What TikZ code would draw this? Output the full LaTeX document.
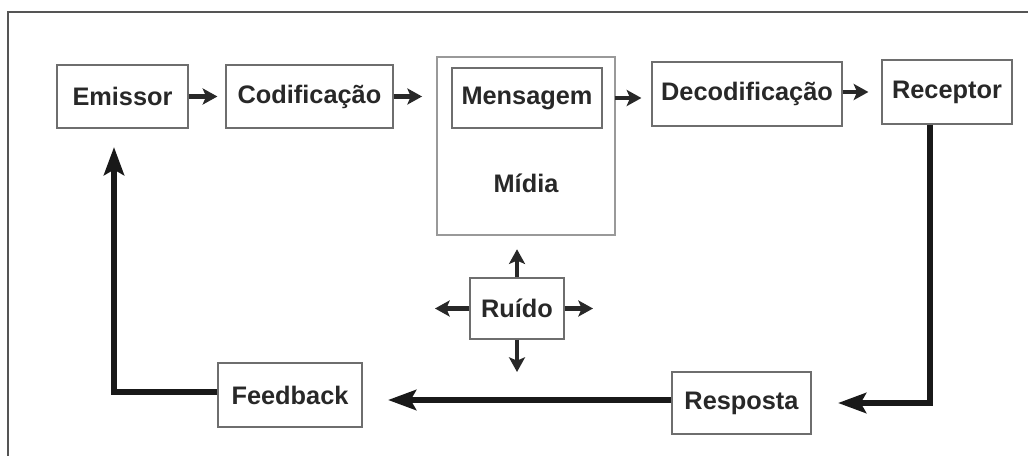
\documentclass[tikz,border=0pt]{standalone}
\usepackage{fontspec}
\setmainfont{Liberation Sans}
\usetikzlibrary{arrows.meta}

\definecolor{boxgray}{RGB}{110,110,110}
\definecolor{txtgray}{RGB}{40,40,40}

\begin{document}
\begin{tikzpicture}[x=0.75pt,y=0.75pt,yscale=-1,xscale=1,
  block/.style={draw=boxgray,line width=0.9pt,fill=white,inner sep=0pt,
    font=\fontsize{19}{22}\selectfont\bfseries,text=txtgray},
  thinarr/.style={line width=3.2pt,color=txtgray,
    -{Stealth[length=11pt,width=12pt,inset=2.5pt]}},
  thickarr/.style={line width=4.5pt,color=black!90,
    -{Stealth[length=21pt,width=15pt,inset=4pt]}}]
\useasboundingbox (0,0) rectangle (1028,456);

%Frame
\draw [color={rgb, 255:red, 85; green, 85; blue, 85 },line width=1.5pt] (8,456) -- (8,12) -- (1028,12) ;

%Shape: Rectangle
\node (emissor) at (122.5,96.5) [block,minimum width=131*0.75pt,minimum height=63*0.75pt] {Emissor};
%Shape: Rectangle
\node (codif) at (309.5,96.5) [block,minimum width=167*0.75pt,minimum height=63*0.75pt] {Codificação};
%Shape: Rectangle
\node (midia) at (526,146) [block,draw=boxgray!70,line width=1.4pt,minimum width=178*0.75pt,minimum height=178*0.75pt] {};
%Shape: Rectangle
\node (mensagem) at (527,98) [block,minimum width=150*0.75pt,minimum height=60*0.75pt] {Mensagem};
% Text Node
\node (midiatxt) at (526,183) [block,draw=none,fill=none] {Mídia};
%Shape: Rectangle
\node (decod) at (747,94) [block,minimum width=190*0.75pt,minimum height=64*0.75pt] {Decodificação};
%Shape: Rectangle
\node (receptor) at (947,92) [block,minimum width=130*0.75pt,minimum height=64*0.75pt] {Receptor};
%Shape: Rectangle
\node (ruido) at (517,308.5) [block,minimum width=94*0.75pt,minimum height=61*0.75pt] {Ruído};
%Shape: Rectangle
\node (resposta) at (741.5,403) [block,minimum width=139*0.75pt,minimum height=62*0.75pt] {Resposta};
%Shape: Rectangle
\node (feedback) at (290,395) [block,minimum width=144*0.75pt,minimum height=64*0.75pt] {Feedback};

% free ends
\coordinate (resptip) at (838,403);
\coordinate (fbtip) at (388,400);
\coordinate (emtip) at (114,147);
\coordinate (rdown) at (517,372);
\coordinate (rleft) at (435,308.5);
\coordinate (rright) at (593,308.5);

%Straight Lines
\draw [thinarr,shorten >=6pt] (emissor) -- (codif) ;
\draw [thinarr,shorten >=10.5pt] (codif.east) -- (codif.east -| midia.west) ;
\draw [thinarr,shorten >=7.5pt,shorten <=-1pt] (mensagem.east -| midia.east) -- (mensagem.east -| decod.west) ;
\draw [thinarr,shorten >=9.75pt] (decod.east |- receptor.west) -- (receptor.west) ;
\draw [thinarr,shorten >=10pt] (ruido.north) -- (ruido.north |- midia.south) ;
\draw [thinarr] (ruido.south) -- (rdown) ;
\draw [thinarr] (ruido.west) -- (rleft) ;
\draw [thinarr] (ruido.east) -- (rright) ;

%Feedback loop
\draw [thickarr] (receptor.south -| 930,0) |- (resptip) ;
\draw [thickarr] (resposta.west |- fbtip) -- (fbtip) ;
\draw [thickarr] (feedback.west |- 0,392) -| (emtip) ;

\end{tikzpicture}
\end{document}
